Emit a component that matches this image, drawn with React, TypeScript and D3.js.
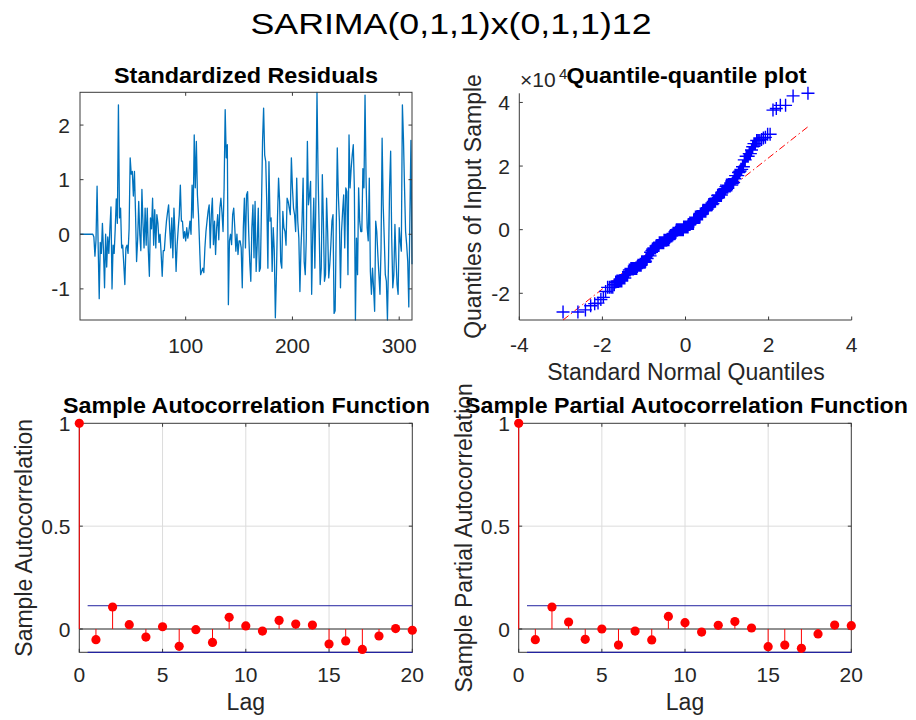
import React from 'react';
import * as d3 from 'd3';

// ---------- DATA ----------
const residuals: number[] = [
  0, 0, 0, 0, 0, 0, 0, 0, 0, 0, 0, 0, 0,
  -0.05, -0.40, -0.10, 0.88, -0.20, -1.18, -0.15,
  -0.35, 0.20, -0.30, -0.98, 0.00, -0.60, -0.05, -0.35, 0.10, 0.50,
  -1.00, -0.20, -0.35, 0.10, 0.65, 0.20, 2.37, 0.30, 0.48, -0.25,
  -0.20, -0.55, -0.92, -0.25, -0.20, -0.35, 0.10, 1.40, 1.10, 1.15,
  0.70, 1.15, 0.40, -0.50, -0.10, 0.60, 0.00, -0.30, 0.82, 0.20,
  -0.25, 0.48, -0.20, 0.48, -0.30, -0.77, 0.30, 0.10, 0.66, -0.20,
  0.45, -0.25, 0.36, 0.20, -0.15, 0.00, -0.35, -0.77, -0.30, -0.30,
  0.00, 0.24, 0.40, 0.54, 0.10, -0.25, 0.30, -0.43, 0.48, 0.00,
  -0.68, -0.20, 0.10, 0.36, 0.90, 0.24, 0.24, -0.07, 0.05, -0.12,
  0.12, -0.07, 0.05, 0.24, 0.00, 0.90, 0.30, 1.82, 0.85, 1.70,
  0.72, 0.36, -0.19, -0.74, -0.68, -0.62, -0.70, -0.25, 0.05, 0.24,
  0.42, 0.54, -0.25, 0.36, 0.66, -0.19, 0.24, -0.37, 0.12, 0.36,
  -0.10, 0.48, 0.66, 0.40, 0.05, 0.85, 2.28, 1.40, 1.64, -1.29,
  -0.12, 0.00, -0.19, 0.36, 0.48, 0.12, -0.31, 0.00, -0.37, -0.12,
  -0.12, -0.25, -0.98, 0.12, 0.66, -0.25, 0.72, 0.78, 0.05, -0.50,
  -0.86, 0.12, 0.54, -0.43, 0.60, -0.68, -0.19, 0.48, -0.68, -0.62,
  0.50, 1.70, 2.31, 1.45, 1.33, 0.54, -0.62, 1.33, 0.24, 0.30,
  -0.68, 0.12, -0.30, -1.53, -0.74, 0.30, 1.03, 0.60, -0.50, -0.62,
  0.42, 0.12, 0.05, -0.20, 0.66, 0.60, 0.48, 0.36, 1.40, 0.85,
  0.48, 0.36, 0.05, 1.03, 0.24, -0.07, -1.05, -0.25, 0.24, 1.03,
  -0.50, -0.74, -0.07, 1.70, 0.54, 0.72, 0.97, -1.10, -0.01, 0.66,
  -0.62, 0.66, 2.60, 1.12, 0.12, -0.92, -0.62, 1.09, 0.24, -0.86,
  -0.74, 0.66, 0.05, -0.80, -0.55, -0.19, 0.24, 0.36, -1.45, -1.40,
  0.05, 1.58, 0.72, 0.24, -0.98, 0.05, 0.42, 0.72, -0.25, 0.85,
  0.78, -0.74, 1.82, 0.85, 1.20, 1.45, 1.64, 0.85, -1.57, -0.07,
  -0.74, 0.85, 0.24, 0.05, 0.05, 1.20, 0.85, 2.55, 0.97, 0.12,
  -0.12, 1.03, -0.68, -1.10, -0.62, -0.98, -1.41, 0.24, 0.05, -0.37,
  -0.74, -1.10, -0.25, 1.76, 0.54, -0.07, -0.74, -0.86, -1.57, -0.50,
  0.85, 1.52, -0.07, -0.98, -0.74, 0.18, -0.43, -0.92, -1.10, 0.12,
  -0.13, -0.31, 2.37, 1.75, 0.85, 0.05, -0.19, -0.50, -1.33, 0.30,
  1.72, -0.55,
];

// raw residual scale (residual = standardized * scale), used by the Q-Q plot
const residualScale = 16490;

const lags: number[] = [0, 1, 2, 3, 4, 5, 6, 7, 8, 9, 10, 11, 12, 13, 14, 15, 16, 17, 18, 19, 20];
const acfValues: number[] = [1, -0.052, 0.107, 0.021, -0.039, 0.011, -0.084, -0.003, -0.065, 0.057, 0.015, -0.010, 0.042, 0.024, 0.019, -0.073, -0.058, -0.099, -0.034, 0.002, -0.006];
const pacfValues: number[] = [1, -0.052, 0.107, 0.034, -0.050, 0.000, -0.078, -0.010, -0.053, 0.061, 0.031, -0.015, 0.018, 0.036, 0.005, -0.086, -0.078, -0.094, -0.024, 0.019, 0.016];
const confBound = 0.1132;

const resXTicks: number[] = [100, 200, 300];
const resYTicks: number[] = [-1, 0, 1, 2];
const qqXTicks: number[] = [-4, -2, 0, 2, 4];
const qqYTicks: number[] = [-2, 0, 2, 4];
const acfXTicks: number[] = [0, 5, 10, 15, 20];
const acfYTicks: number[] = [0, 0.5, 1];

const mainTitle = 'SARIMA(0,1,1)x(0,1,1)12';

// ---------- STYLE ----------
const FONT = '"Liberation Sans", Arial, Helvetica, sans-serif';
const AX = '#3a3a3a';
const TXT = '#262626';
const TICK_FS = 21;
const LABEL_FS = 23;
const TL = 3.5;

function norminv(p: number): number {
  const a = [-3.969683028665376e1, 2.209460984245205e2, -2.759285104469687e2, 1.38357751867269e2, -3.066479806614716e1, 2.506628277459239];
  const b = [-5.447609879822406e1, 1.615858368580409e2, -1.556989798598866e2, 6.680131188771972e1, -1.328068155288572e1];
  const c = [-7.784894002430293e-3, -3.223964580411365e-1, -2.400758276161838, -2.549732539343734, 4.374664141464968, 2.938163982698783];
  const d = [7.784695709041462e-3, 3.224671290700398e-1, 2.445134137142996, 3.754408645114527];
  const plow = 0.02425;
  if (p < plow) {
    const q = Math.sqrt(-2 * Math.log(p));
    return (((((c[0] * q + c[1]) * q + c[2]) * q + c[3]) * q + c[4]) * q + c[5]) / ((((d[0] * q + d[1]) * q + d[2]) * q + d[3]) * q + 1);
  }
  if (p > 1 - plow) {
    const q = Math.sqrt(-2 * Math.log(1 - p));
    return -(((((c[0] * q + c[1]) * q + c[2]) * q + c[3]) * q + c[4]) * q + c[5]) / ((((d[0] * q + d[1]) * q + d[2]) * q + d[3]) * q + 1);
  }
  const q = p - 0.5;
  const r = q * q;
  return ((((((a[0] * r + a[1]) * r + a[2]) * r + a[3]) * r + a[4]) * r + a[5]) * q) / (((((b[0] * r + b[1]) * r + b[2]) * r + b[3]) * r + b[4]) * r + 1);
}

function ResidualPanel() {
  const L = 80, R = 412, T = 92.3, B = 320;
  const x = d3.scaleLinear().domain([1, residuals.length]).range([L, R]);
  const ext = d3.extent(residuals) as [number, number];
  const y = d3.scaleLinear().domain(ext).range([B, T]);
  const line = d3.line<number>().x((_, i) => x(i + 1)).y((v) => y(v));
  return (
    <g>
      <text x={246} y={82.5} textAnchor="middle" fontSize={21.5} fontWeight="bold" fill="#000" textLength={264} lengthAdjust="spacingAndGlyphs">Standardized Residuals</text>
      <path d={line(residuals) || ''} fill="none" stroke="#0072BD" strokeWidth={1.3} strokeLinejoin="round" />
      <rect x={L} y={T} width={R - L} height={B - T} fill="none" stroke={AX} strokeWidth={1} />
      {resXTicks.map((t) => (
        <g key={'rx' + t}>
          <line x1={x(t)} x2={x(t)} y1={B} y2={B - TL} stroke={AX} />
          <line x1={x(t)} x2={x(t)} y1={T} y2={T + TL} stroke={AX} />
          <text x={x(t)} y={352.5} textAnchor="middle" fontSize={TICK_FS} fill={TXT}>{t}</text>
        </g>
      ))}
      {resYTicks.map((t) => (
        <g key={'ry' + t}>
          <line x1={L} x2={L + TL} y1={y(t)} y2={y(t)} stroke={AX} />
          <line x1={R} x2={R - TL} y1={y(t)} y2={y(t)} stroke={AX} />
          <text x={70} y={y(t)} dy="0.36em" textAnchor="end" fontSize={TICK_FS} fill={TXT}>{t}</text>
        </g>
      ))}
    </g>
  );
}

function QQPanel() {
  const L = 519.3, R = 851.7, T = 93.3, B = 320;
  const n = residuals.length;
  const ys = residuals.map((v) => v * residualScale).sort((a, b) => a - b);
  const xs = ys.map((_, i) => norminv((i + 0.5) / n));
  const q1x = d3.quantile(xs, 0.25) as number, q3x = d3.quantile(xs, 0.75) as number;
  const q1y = d3.quantile(ys, 0.25) as number, q3y = d3.quantile(ys, 0.75) as number;
  const slope = (q3y - q1y) / (q3x - q1x);
  const icpt = q1y - slope * q1x;
  const x0 = xs[0], x1 = xs[n - 1];
  const ly0 = icpt + slope * x0, ly1 = icpt + slope * x1;
  const yMin = Math.min(ly0, ys[0]);
  const yMax = Math.max(ly1, ys[n - 1]);
  const x = d3.scaleLinear().domain([-4, 4]).range([L, R]);
  const y = d3.scaleLinear().domain([yMin, yMax]).range([B, T]);
  const s = 6.5;
  let plus = '';
  for (let i = 0; i < n; i++) {
    const px = x(xs[i]), py = y(ys[i]);
    plus += `M${px - s},${py}h${2 * s}M${px},${py - s}v${2 * s}`;
  }
  return (
    <g>
      <text x={520} y={87} fontSize={21} fill={TXT}>×10</text>
      <text x={559} y={79} fontSize={15} fill={TXT}>4</text>
      <text x={686.5} y={83} textAnchor="middle" fontSize={21.5} fontWeight="bold" fill="#000" textLength={240} lengthAdjust="spacingAndGlyphs">Quantile-quantile plot</text>
      <line x1={L} x2={L} y1={T} y2={B} stroke={AX} />
      <line x1={L} x2={R} y1={B} y2={B} stroke={AX} />
      {qqXTicks.map((t) => (
        <g key={'qx' + t}>
          <line x1={x(t)} x2={x(t)} y1={B} y2={B - TL} stroke={AX} />
          <text x={x(t)} y={351.7} textAnchor="middle" fontSize={TICK_FS} fill={TXT}>{t}</text>
        </g>
      ))}
      {qqYTicks.map((t) => (
        <g key={'qy' + t}>
          <line x1={L} x2={L + TL} y1={y(t * 1e4)} y2={y(t * 1e4)} stroke={AX} />
          <text x={510} y={y(t * 1e4)} dy="0.36em" textAnchor="end" fontSize={TICK_FS} fill={TXT}>{t}</text>
        </g>
      ))}
      <line x1={x(x0)} y1={y(ly0)} x2={x(x1)} y2={y(ly1)} stroke="#ff0000" strokeWidth={1} strokeDasharray="7,3,1.5,3" />
      <line x1={x(q1x)} y1={y(q1y)} x2={x(q3x)} y2={y(q3y)} stroke="#ff0000" strokeWidth={1} />
      <path d={plus} fill="none" stroke="#0000ff" strokeWidth={1.4} />
      <text x={686} y={380} textAnchor="middle" fontSize={LABEL_FS} fill={TXT}>Standard Normal Quantiles</text>
      <text transform="translate(481,206.5) rotate(-90)" textAnchor="middle" fontSize={LABEL_FS} fill={TXT}>Quantiles of Input Sample</text>
    </g>
  );
}

function CorrPanel(props: { values: number[]; L: number; R: number; title: string; titleX: number; titleLen: number; ylabel: string; ylabelX: number; yTickX: number }) {
  const { values, L, R, title, titleX, titleLen, ylabel, ylabelX, yTickX } = props;
  const T = 423.3, B = 652.3;
  const x = d3.scaleLinear().domain([0, 20]).range([L, R]);
  const y = d3.scaleLinear().domain([-confBound, 1]).range([B, T]);
  const cx = (L + R) / 2;
  return (
    <g>
      {acfXTicks.filter((t) => t > 0 && t < 20).map((t) => (
        <line key={'gx' + t} x1={x(t)} x2={x(t)} y1={T} y2={B} stroke="#dcdcdc" />
      ))}
      {acfYTicks.filter((t) => t > 0 && t < 1).map((t) => (
        <line key={'gy' + t} x1={L} x2={R} y1={y(t)} y2={y(t)} stroke="#dcdcdc" />
      ))}
      <rect x={L} y={T} width={R - L} height={B - T} fill="none" stroke={AX} strokeWidth={1} />
      {acfXTicks.map((t) => (
        <g key={'ax' + t}>
          <line x1={x(t)} x2={x(t)} y1={B} y2={B - TL} stroke={AX} />
          <line x1={x(t)} x2={x(t)} y1={T} y2={T + TL} stroke={AX} />
          <text x={x(t)} y={681.7} textAnchor="middle" fontSize={TICK_FS} fill={TXT}>{t}</text>
        </g>
      ))}
      {acfYTicks.map((t) => (
        <g key={'ay' + t}>
          <line x1={L} x2={L + TL} y1={y(t)} y2={y(t)} stroke={AX} />
          <line x1={R} x2={R - TL} y1={y(t)} y2={y(t)} stroke={AX} />
          <text x={yTickX} y={y(t)} dy="0.36em" textAnchor="end" fontSize={TICK_FS} fill={TXT}>{String(t)}</text>
        </g>
      ))}
      <line x1={x(0.5)} x2={x(20)} y1={y(confBound)} y2={y(confBound)} stroke="#2323a0" strokeWidth={1} />
      <line x1={x(0.5)} x2={x(20)} y1={y(-confBound)} y2={y(-confBound)} stroke="#2323a0" strokeWidth={1.2} />
      <line x1={L} x2={R} y1={y(0)} y2={y(0)} stroke="#222" strokeWidth={1} />
      {lags.map((lg, i) => (
        <line key={'st' + lg} x1={x(lg)} x2={x(lg)} y1={y(0)} y2={y(values[i])} stroke="#ff0000" strokeWidth={1} />
      ))}
      {lags.map((lg, i) => (
        <circle key={'mk' + lg} cx={x(lg)} cy={y(values[i])} r={4.6} fill="#ff0000" />
      ))}
      <text x={titleX} y={413.3} textAnchor="middle" fontSize={21.5} fontWeight="bold" fill="#000" textLength={titleLen} lengthAdjust="spacingAndGlyphs">{title}</text>
      <text x={cx} y={710} textAnchor="middle" fontSize={LABEL_FS} fill={TXT}>Lag</text>
      <text transform={`translate(${ylabelX},537.8) rotate(-90)`} textAnchor="middle" fontSize={LABEL_FS} fill={TXT}>{ylabel}</text>
    </g>
  );
}

export default function App() {
  return (
    <svg width={916} height={720} viewBox="0 0 916 720" style={{ position: 'absolute', left: 0, top: 0, background: '#fff' }} fontFamily={FONT}>
      <rect x={0} y={0} width={916} height={720} fill="#fff" />
      <text x={451} y={34} textAnchor="middle" fontSize={30} fill="#000" textLength={401} lengthAdjust="spacingAndGlyphs">{mainTitle}</text>
      <ResidualPanel />
      <QQPanel />
      <CorrPanel values={acfValues} L={79.3} R={412.3} title="Sample Autocorrelation Function" titleX={246.5} titleLen={367} ylabel="Sample Autocorrelation" ylabelX={31.5} yTickX={70.5} />
      <CorrPanel values={pacfValues} L={518.7} R={851.3} title="Sample Partial Autocorrelation Function" titleX={686.5} titleLen={443} ylabel="Sample Partial Autocorrelation" ylabelX={471.5} yTickX={510} />
    </svg>
  );
}
